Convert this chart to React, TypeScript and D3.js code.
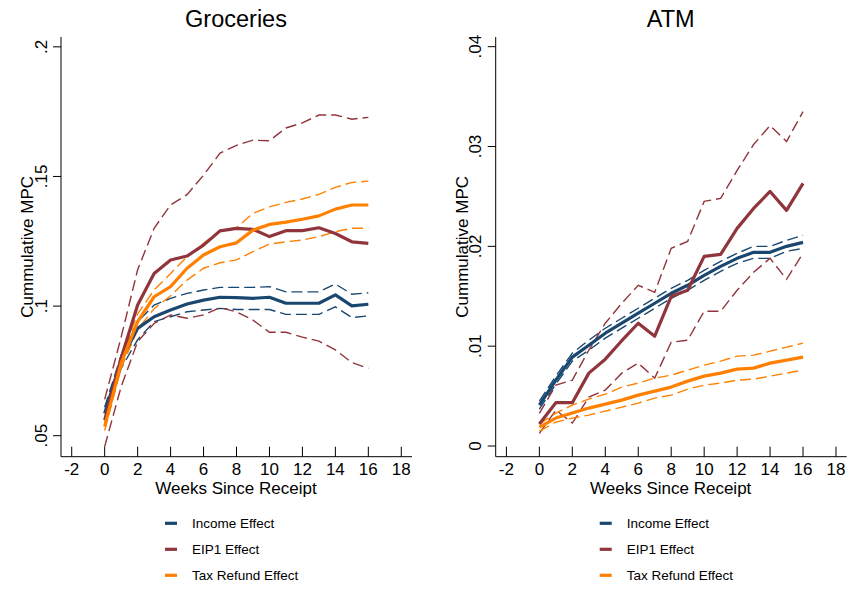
import React from "react";
import * as d3 from "d3";

const weeks = [0, 1, 2, 3, 4, 5, 6, 7, 8, 9, 10, 11, 12, 13, 14, 15, 16];
const xTicks = [-2, 0, 2, 4, 6, 8, 10, 12, 14, 16, 18];
const seriesNames = ["Income Effect", "EIP1 Effect", "Tax Refund Effect"];
const seriesColors = ["#1a476f", "#90353b", "#ff8000"];

// Groceries
const grocIncome = [0.0586, 0.0792, 0.0914, 0.0959, 0.0985, 0.1008, 0.1023, 0.1034, 0.1033, 0.103, 0.1034, 0.1011, 0.1011, 0.1011, 0.1043, 0.1001, 0.1007];
const grocIncomeHi = [0.061, 0.081, 0.094, 0.1004, 0.103, 0.1049, 0.1062, 0.1072, 0.1072, 0.1072, 0.1075, 0.1055, 0.1055, 0.1055, 0.1085, 0.1046, 0.1051];
const grocIncomeLo = [0.056, 0.076, 0.087, 0.094, 0.0959, 0.0978, 0.0985, 0.0991, 0.0987, 0.0987, 0.0987, 0.0968, 0.0968, 0.0968, 0.0997, 0.0956, 0.0962];
const grocEip = [0.056, 0.08, 0.1004, 0.1126, 0.1178, 0.1193, 0.1235, 0.129, 0.13, 0.1296, 0.1268, 0.1291, 0.1291, 0.1302, 0.128, 0.1248, 0.1242];
const grocEipHi = [0.064, 0.088, 0.114, 0.13, 0.139, 0.143, 0.1505, 0.159, 0.162, 0.164, 0.1638, 0.1687, 0.1707, 0.1737, 0.1737, 0.1721, 0.1728];
const grocEipLo = [0.0458, 0.0689, 0.0863, 0.0933, 0.0966, 0.0953, 0.0966, 0.0994, 0.0978, 0.0946, 0.0899, 0.0899, 0.088, 0.0865, 0.0831, 0.0782, 0.076];
const grocTax = [0.0535, 0.078, 0.094, 0.1036, 0.1075, 0.1146, 0.1197, 0.1229, 0.1244, 0.1293, 0.1315, 0.1324, 0.1335, 0.1348, 0.1374, 0.139, 0.139];
const grocTaxHi = [0.055, 0.08, 0.097, 0.1062, 0.1126, 0.119, 0.1242, 0.1293, 0.1302, 0.1358, 0.1383, 0.14, 0.1413, 0.1431, 0.1458, 0.1477, 0.1482];
const grocTaxLo = [0.052, 0.076, 0.091, 0.099, 0.104, 0.11, 0.1146, 0.1167, 0.1178, 0.121, 0.1239, 0.1248, 0.1255, 0.1268, 0.1287, 0.13, 0.13];
const grocYTicks = [0.05, 0.1, 0.15, 0.2];
const grocYLabels = [".05", ".1", ".15", ".2"];

// ATM
const atmIncome = [0.0041, 0.0066, 0.0089, 0.0101, 0.0113, 0.0123, 0.0133, 0.0143, 0.0153, 0.0161, 0.0171, 0.018, 0.0188, 0.0194, 0.0194, 0.02, 0.0204];
const atmIncomeHi = [0.0045, 0.007, 0.0093, 0.0106, 0.0118, 0.0128, 0.0138, 0.0148, 0.0158, 0.0166, 0.0176, 0.0185, 0.0193, 0.02, 0.02, 0.0206, 0.0211];
const atmIncomeLo = [0.0037, 0.0062, 0.0085, 0.0096, 0.0108, 0.0118, 0.0128, 0.0138, 0.0148, 0.0156, 0.0166, 0.0175, 0.0183, 0.0188, 0.0188, 0.0195, 0.0198];
const atmEip = [0.0022, 0.00434, 0.00434, 0.0073, 0.0087, 0.01055, 0.0123, 0.011, 0.015, 0.0156, 0.019, 0.0192, 0.0218, 0.0238, 0.0255, 0.0236, 0.0263];
const atmEipHi = [0.00327, 0.0061, 0.0066, 0.0096, 0.0123, 0.0143, 0.0161, 0.0154, 0.0198, 0.0205, 0.0245, 0.0248, 0.0276, 0.0302, 0.0321, 0.0305, 0.0335];
const atmEipLo = [0.00127, 0.0036, 0.0023, 0.0049, 0.0056, 0.0073, 0.0083, 0.0068, 0.0104, 0.0106, 0.0135, 0.0135, 0.0156, 0.0174, 0.0188, 0.0167, 0.0193];
const atmTax = [0.0019, 0.0028, 0.0033, 0.0038, 0.0042, 0.0046, 0.0051, 0.0055, 0.0059, 0.0065, 0.007, 0.0073, 0.0077, 0.0078, 0.0083, 0.0086, 0.0089];
const atmTaxHi = [0.0022, 0.0033, 0.0041, 0.0047, 0.0052, 0.0059, 0.0063, 0.0068, 0.0071, 0.0076, 0.0081, 0.0085, 0.009, 0.0091, 0.0095, 0.0099, 0.0103];
const atmTaxLo = [0.0015, 0.0024, 0.0028, 0.0031, 0.0035, 0.0039, 0.0043, 0.0048, 0.0051, 0.0057, 0.0061, 0.0063, 0.0066, 0.0067, 0.007, 0.0073, 0.0076];
const atmYTicks = [0, 0.01, 0.02, 0.03, 0.04];
const atmYLabels = ["0", ".01", ".02", ".03", ".04"];

const FONT = "'Liberation Sans', Arial, Helvetica, sans-serif";

type Panel = {
  title: string;
  left: number;
  yDomain: [number, number];
  yTicks: number[];
  yLabels: string[];
  series: { mid: number[]; hi: number[]; lo: number[] }[];
};

const panels: Panel[] = [
  {
    title: "Groceries",
    left: 61,
    yDomain: [0.0419, 0.2038],
    yTicks: grocYTicks,
    yLabels: grocYLabels,
    series: [
      { mid: grocIncome, hi: grocIncomeHi, lo: grocIncomeLo },
      { mid: grocEip, hi: grocEipHi, lo: grocEipLo },
      { mid: grocTax, hi: grocTaxHi, lo: grocTaxLo },
    ],
  },
  {
    title: "ATM",
    left: 495.7,
    yDomain: [-0.00107, 0.04097],
    yTicks: atmYTicks,
    yLabels: atmYLabels,
    series: [
      { mid: atmIncome, hi: atmIncomeHi, lo: atmIncomeLo },
      { mid: atmEip, hi: atmEipHi, lo: atmEipLo },
      { mid: atmTax, hi: atmTaxHi, lo: atmTaxLo },
    ],
  },
];

const TOP = 37;
const BOTTOM = 456.7;
const WIDTH = 351;

function PanelView({ p }: { p: Panel }) {
  const x = d3.scaleLinear().domain([-2.65, 18.65]).range([p.left, p.left + WIDTH]);
  const y = d3.scaleLinear().domain(p.yDomain).range([BOTTOM, TOP]);
  const line = (vals: number[]) =>
    d3.line<number>().x((_, i) => x(weeks[i])).y((v) => y(v))(vals) || "";
  const cx = p.left + 175;
  // draw order: dashed first then solid; order as Stata: income, eip, tax
  return (
    <g>
      <text x={cx} y={27} textAnchor="middle" fontSize={23.5} fontFamily={FONT} fill="#000">
        {p.title}
      </text>
      {p.series.map((s, i) => (
        <g key={"d" + i}>
          <path d={line(s.hi)} fill="none" stroke={seriesColors[i]} strokeWidth={1.4} strokeDasharray="11,5" />
          <path d={line(s.lo)} fill="none" stroke={seriesColors[i]} strokeWidth={1.4} strokeDasharray="11,5" />
        </g>
      ))}
      {p.series.map((s, i) => (
        <path key={"s" + i} d={line(s.mid)} fill="none" stroke={seriesColors[i]} strokeWidth={3.2} strokeLinejoin="round" />
      ))}
      {/* y axis */}
      <line x1={p.left} x2={p.left} y1={TOP} y2={BOTTOM} stroke="#000" strokeWidth={1} />
      {p.yTicks.map((t, i) => (
        <g key={"yt" + i}>
          <line x1={p.left - 8} x2={p.left} y1={y(t)} y2={y(t)} stroke="#000" strokeWidth={1} />
          <text
            transform={`translate(${p.left - 14.5},${y(t)}) rotate(-90)`}
            textAnchor="middle"
            fontSize={17}
            fontFamily={FONT}
            fill="#000"
          >
            {p.yLabels[i]}
          </text>
        </g>
      ))}
      <text
        transform={`translate(${p.left - 28},${(TOP + BOTTOM) / 2}) rotate(-90)`}
        textAnchor="middle"
        fontSize={17}
        fontFamily={FONT}
        fill="#000"
      >
        Cummulative MPC
      </text>
      {/* x axis */}
      <line x1={p.left} x2={p.left + WIDTH} y1={BOTTOM} y2={BOTTOM} stroke="#000" strokeWidth={1} />
      {xTicks.map((t) => (
        <g key={"xt" + t}>
          <line x1={x(t)} x2={x(t)} y1={BOTTOM - 10} y2={BOTTOM} stroke="#000" strokeWidth={1} />
          <text x={x(t)} y={474.5} textAnchor="middle" fontSize={17} fontFamily={FONT} fill="#000">
            {t}
          </text>
        </g>
      ))}
      <text x={cx} y={493.5} textAnchor="middle" fontSize={17} fontFamily={FONT} fill="#000">
        Weeks Since Receipt
      </text>
      {/* legend */}
      {seriesNames.map((n, i) => {
        const ly = 523.3 + i * 26;
        const lx = p.left + 104;
        return (
          <g key={"lg" + i}>
            <line x1={lx} x2={lx + 12} y1={ly} y2={ly} stroke={seriesColors[i]} strokeWidth={3.2} />
            <text x={lx + 27} y={ly + 4.8} fontSize={13.5} fontFamily={FONT} fill="#000">
              {n}
            </text>
          </g>
        );
      })}
    </g>
  );
}

export default function App() {
  return (
    <svg width={849} height={589} style={{ position: "absolute", left: 0, top: 0, background: "#fff" }}>
      <rect x={0} y={0} width={849} height={589} fill="#fff" />
      {panels.map((p, i) => (
        <PanelView key={i} p={p} />
      ))}
    </svg>
  );
}
